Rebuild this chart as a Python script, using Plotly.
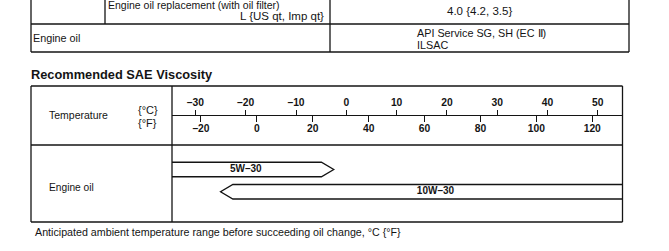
import plotly.graph_objects as go

# ---------------- data ----------------
oil_grades = ["5W\u201330", "10W\u201330"]
oil_low_c = [-35, -25]        # lower end of range, deg C (5W-30 runs off the left edge)
oil_high_c = [-2.5, 58]       # upper end of range, deg C (10W-30 runs off the right edge)
oil_tip = ["high", "low"]     # which end carries the arrow point

c_ticks = [-30, -20, -10, 0, 10, 20, 30, 40, 50]
c_ticktext = ["\u201330", "\u201320", "\u201310", "0", "10", "20", "30", "40", "50"]
f_ticks = [-20, 0, 20, 40, 60, 80, 100, 120]
f_ticktext = ["\u201320", "0", "20", "40", "60", "80", "100", "120"]

spec_rows = [
    ("Engine oil replacement (with oil filter)", "L {US qt, Imp qt}", "4.0 {4.2, 3.5}"),
]
engine_oil_spec = ["API Service SG, SH (EC \u2161)", "ILSAC"]

# ---------------- layout helpers ----------------
W, H = 669, 251
FONT = "Liberation Sans, Arial, sans-serif"
INK = "#141414"
LW = 1.3


def xp(px):
    return px / W


def yp(py):
    return 1 - py / H


C_MIN, C_MAX = -34.65, 54.9            # visible temperature span of the chart box
F_MIN, F_MAX = C_MIN * 1.8 + 32, C_MAX * 1.8 + 32
HEAD = 2.45                            # arrow-head depth in deg C
HALF = 0.326                           # arrow half-height in row units

fig = go.Figure()

# arrows
for i, (g, lo, hi, tip) in enumerate(zip(oil_grades, oil_low_c, oil_high_c, oil_tip)):
    if tip == "high":
        xs = [lo, hi - HEAD, hi, hi - HEAD, lo, lo]
        body_mid = (lo + hi - HEAD) / 2
    else:
        xs = [hi, lo + HEAD, lo, lo + HEAD, hi, hi]
        body_mid = (lo + HEAD + hi) / 2
    ys = [i - HALF, i - HALF, i, i + HALF, i + HALF, i - HALF]
    fig.add_trace(go.Scatter(
        x=xs, y=ys, mode="lines", fill="toself", fillcolor="white",
        line=dict(color=INK, width=LW), hoverinfo="skip", showlegend=False,
        xaxis="x", yaxis="y"))
    fig.add_trace(go.Scatter(
        x=[body_mid], y=[i], mode="text", text=[g],
        textfont=dict(family=FONT, size=10, color=INK, weight="bold"),
        hoverinfo="skip", showlegend=False, xaxis="x", yaxis="y"))

# dummy trace for the deg F axis
fig.add_trace(go.Scatter(x=[F_MIN, F_MAX], y=[None, None], mode="markers",
                         showlegend=False, hoverinfo="skip", xaxis="x2", yaxis="y"))

# ---------------- table lines ----------------
shapes = []


def hline(y, x0, x1):
    shapes.append(dict(type="line", xref="paper", yref="paper", x0=xp(x0), x1=xp(x1),
                       y0=yp(y), y1=yp(y), line=dict(color=INK, width=LW)))


def vline(x, y0, y1):
    shapes.append(dict(type="line", xref="paper", yref="paper", x0=xp(x), x1=xp(x),
                       y0=yp(y0), y1=yp(y1), line=dict(color=INK, width=LW)))


# upper spec table
vline(31, -2, 52)
vline(629, -2, 52)
vline(105, -2, 24)
vline(330, -2, 52)
hline(24, 31, 629)
hline(52, 31, 629)

# viscosity box
BX0, BX1, BY0, BY1 = 31, 622.5, 86, 222
DIV, MID = 172, 145
hline(BY0, BX0, BX1)
hline(BY1, BX0, BX1)
vline(BX0, BY0, BY1)
vline(BX1, BY0, BY1)
vline(DIV, BY0, BY1)
hline(MID, BX0, BX1)

# ---------------- texts ----------------
ann = []


def text(s, x, y, size=10.5, anchor="left", bold=False):
    ann.append(dict(text=s, x=xp(x), y=yp(y), xref="paper", yref="paper",
                    xanchor=anchor, yanchor="middle", showarrow=False, borderpad=0,
                    font=dict(family=FONT, size=size, color=INK,
                              weight="bold" if bold else "normal")))


for label, unit, value in spec_rows:
    text(label, 107, 5.5, 10.5)
    text(unit, 325, 16.5, 11.5, anchor="right")
    text(value, 479, 11.5, 11.5, anchor="center")
text("Engine oil", 32, 38, 10.8)
text(engine_oil_spec[0], 416, 33, 10.8)
text(engine_oil_spec[1], 416, 44.5, 10.8)

text("Recommended SAE Viscosity", 30, 75, 12.8, bold=True)
text("Temperature", 48, 115, 10.5)
text("{\u00b0C}", 137, 109.5, 11)
text("{\u00b0F}", 137, 122.5, 11)
text("Engine oil", 48, 187, 10.2)
text("Anticipated ambient temperature range before succeeding oil change, \u00b0C {\u00b0F}",
     34, 232, 10.7)

AXIS_Y = yp(115)
tickfont = dict(family=FONT, size=10.3, color=INK, weight="bold")

fig.update_layout(
    width=W, height=H,
    margin=dict(l=0, r=0, t=0, b=0),
    paper_bgcolor="white", plot_bgcolor="white",
    shapes=shapes, annotations=ann, showlegend=False,
    xaxis=dict(domain=[xp(DIV), xp(BX1)], range=[C_MIN, C_MAX], anchor="free",
               position=AXIS_Y, side="top", showline=True, linecolor=INK, linewidth=LW,
               ticks="outside", ticklen=5, tickwidth=LW, tickcolor=INK,
               tickvals=c_ticks, ticktext=c_ticktext, tickfont=tickfont,
               showgrid=False, zeroline=False, fixedrange=True),
    xaxis2=dict(domain=[xp(DIV), xp(BX1)], range=[F_MIN, F_MAX], anchor="free",
                overlaying="x", position=AXIS_Y, side="bottom", showline=True,
                linecolor=INK, linewidth=LW, ticks="outside", ticklen=6, tickwidth=LW,
                tickcolor=INK, tickvals=f_ticks, ticktext=f_ticktext, tickfont=tickfont,
                ticklabelstandoff=-3,
                showgrid=False, zeroline=False, fixedrange=True),
    yaxis=dict(domain=[yp(BY1), yp(MID)], range=[2.36, -1.101], visible=False,
               fixedrange=True),
)

fig.write_html("out.html")
